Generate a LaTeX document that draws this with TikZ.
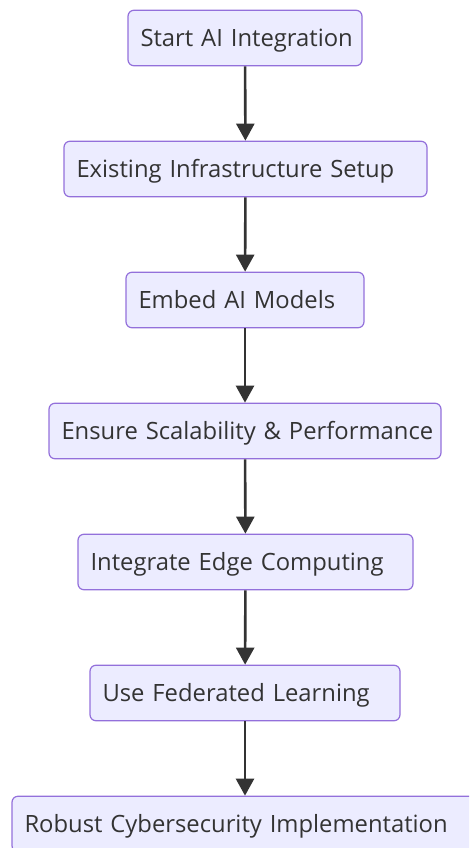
\documentclass[tikz,border=0pt]{standalone}
\usepackage{fontspec}
\setmainfont{Open Sans}
\usepackage{tikz}
\usetikzlibrary{arrows.meta,positioning}
\definecolor{boxfill}{HTML}{ECECFF}
\definecolor{boxline}{HTML}{9370DB}
\definecolor{arrowcol}{HTML}{333333}

\begin{document}
\begin{tikzpicture}[x=1pt,y=-1pt,>={Triangle[width=18pt,length=17pt]},
  step box/.style = {draw=boxline, fill=boxfill, line width=1.2pt, rounded corners=6pt, minimum height=55.5pt, inner xsep=12.5pt, inner ysep=0pt, text height=22pt, text depth=4.4pt, align=left, text=arrowcol, font=\fontsize{23.8}{28}\selectfont},
  flow/.style = {->, draw=arrowcol, line width=2.6pt},]
\clip (0,0) rectangle (469,848);
\useasboundingbox (0,0) rectangle (469,848);
\node (start) at (245,38)[step box,text width=209pt] {\mbox{Start AI Integration}};
\node (infra) at (245.5,169)[step box,text width=338pt] {\mbox{Existing Infrastructure Setup}};
\node (embed) at (245,300)[step box,text width=213pt] {\mbox{Embed AI Models}};
\node (scale) at (245,431)[step box,text width=367pt] {\mbox{Ensure Scalability \& Performance}};
\node (edge) at (245.5,562)[step box,text width=310pt] {\mbox{Integrate Edge Computing}};
\node (fed) at (245,693)[step box,text width=285pt] {\mbox{Use Federated Learning}};
\node (secure) at (245,824)[step box,text width=441pt] {\mbox{Robust Cybersecurity Implementation}};
\draw[flow] (start)--(infra);
\draw[flow] (infra)--(embed);
\draw[flow] (embed)--(scale);
\draw[flow] (scale)--(edge);
\draw[flow] (edge)--(fed);
\draw[flow] (fed)--(secure);
\end{tikzpicture}
\end{document}
